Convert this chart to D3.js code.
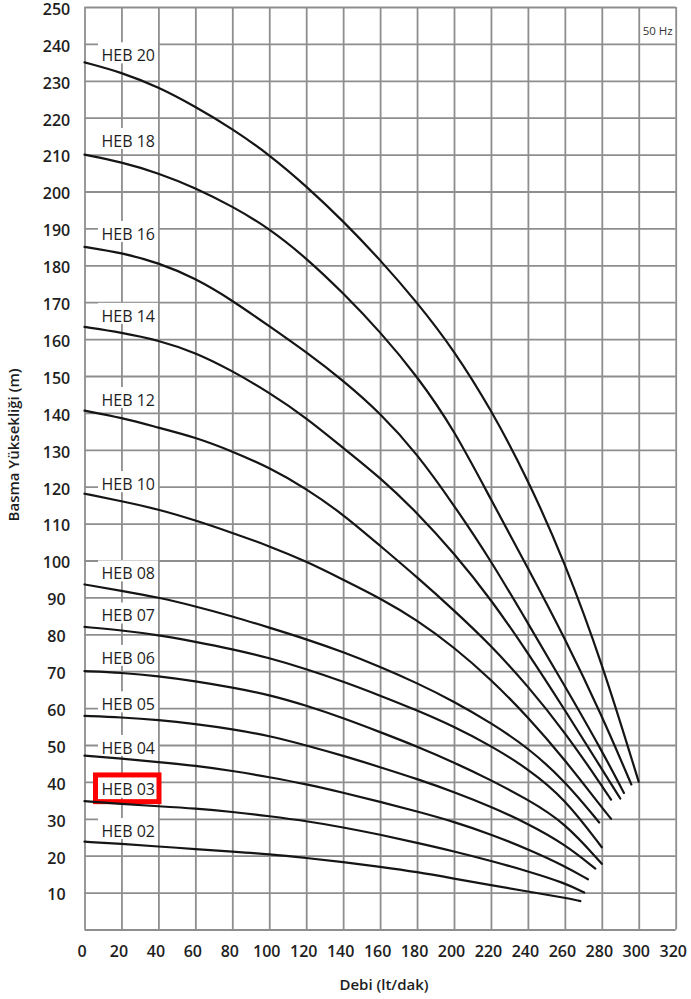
<!DOCTYPE html>
<html>
<head>
<meta charset="utf-8">
<script src="https://cdn.jsdelivr.net/npm/d3@7"></script>
<style>
  html, body { margin: 0; padding: 0; background: #fff; }
  svg { display: block; }
</style>
</head>
<body>
<svg id="chart" width="691" height="999"></svg>
<script>
// ---------- DATA ----------
const flowTicks = [0,20,40,60,80,100,120,140,160,180,200,220,240,260,280,300,320];
const headTicks = [10,20,30,40,50,60,70,80,90,100,110,120,130,140,150,160,170,180,190,200,210,220,230,240,250];
const headGrid  = [0,10,20,30,40,50,60,70,80,90,100,110,120,130,140,150,160,170,180,190,200,210,220,230,240,250];
const models = ["HEB 20","HEB 18","HEB 16","HEB 14","HEB 12","HEB 10","HEB 08","HEB 07","HEB 06","HEB 05","HEB 04","HEB 03","HEB 02"];
// head level (m) at which each model label sits
const labelLevels = [236.9,213.7,188.5,166.3,143.5,120.7,96.5,85.1,73.6,61,49.2,37.9,26.7];
const highlighted = "HEB 03";
const frequency = "50 Hz";
const xTitle = "Debi (lt/dak)";
const yTitle = "Basma Yüksekliği (m)";

// [flow lt/dak, head m]
const heb20 = [[0,235],[20,232.3],[40,228.3],[60,223],[80,217],[100,210],[120,201.5],[140,192],[160,181.5],[180,170],[200,157],[220,141],[240,122],[260,99.5],[280,72.5],[300,40]];
const heb18 = [[0,210],[20,208],[40,205],[60,201],[80,196],[100,190],[120,182],[140,172.5],[160,162],[180,150],[200,135.5],[220,116.5],[240,98],[260,79],[280,58],[296,39.3]];
const heb16 = [[0,185],[20,183.4],[40,180.7],[60,176.5],[80,170.5],[100,163.5],[120,156.5],[140,148.8],[160,140],[180,129],[200,115],[220,100],[240,83],[260,66],[280,48.5],[292,37]];
const heb14 = [[0,163.3],[20,161.8],[40,159.7],[60,156.4],[80,151.4],[100,145.5],[120,138.7],[140,130.5],[160,122.5],[180,113],[200,102],[220,89.5],[240,75],[260,59.5],[280,43.5],[290,35.5]];
const heb12 = [[0,140.6],[20,138.7],[40,136],[60,133.4],[80,129.6],[100,125.2],[120,119.5],[140,112.5],[160,104],[180,95.5],[200,86.5],[220,77],[240,66],[260,53.5],[280,39],[285,35.2]];
const heb10 = [[0,118.1],[20,116.1],[40,113.9],[60,110.9],[80,107.5],[100,103.9],[120,99.8],[140,94.8],[160,89.8],[180,83.9],[200,76.5],[220,67.8],[240,57.6],[260,46],[280,33.1],[285,30]];
const heb08 = [[0,93.5],[20,91.8],[40,90],[60,87.6],[80,84.9],[100,81.8],[120,78.7],[140,75.2],[160,71.2],[180,66.8],[200,61.8],[220,56],[240,49.3],[260,40.3],[278.6,29]];
const heb07 = [[0,82],[20,81.1],[40,79.8],[60,78],[80,76],[100,73.6],[120,70.6],[140,67.2],[160,63.4],[180,59.4],[200,55],[220,49.8],[240,43.6],[260,35.5],[280,22.3]];
const heb06 = [[0,70],[20,69.6],[40,68.7],[60,67.3],[80,65.6],[100,63.6],[120,60.7],[140,57.3],[160,53.5],[180,49.6],[200,45.3],[220,40.5],[240,35.2],[260,29],[280,17.8]];
const heb05 = [[0,57.9],[20,57.5],[40,56.8],[60,55.7],[80,54.3],[100,52.5],[120,49.9],[140,47.1],[160,44],[180,40.8],[200,37.3],[220,33.3],[240,28.7],[260,23.1],[276.5,16.5]];
const heb04 = [[0,47.1],[20,46.3],[40,45.4],[60,44.4],[80,43],[100,41.3],[120,39.4],[140,37.1],[160,34.6],[180,32],[200,29.2],[220,25.8],[240,21.8],[260,17.2],[272.5,13.6]];
const heb03 = [[0,34.8],[20,34],[40,33.4],[60,32.8],[80,31.9],[100,30.7],[120,29.4],[140,27.7],[160,25.7],[180,23.5],[200,21.2],[220,18.6],[240,15.8],[260,12.6],[270.5,10]];
const heb02 = [[0,23.8],[20,23.2],[40,22.5],[60,21.8],[80,21.1],[100,20.4],[120,19.4],[140,18.3],[160,17],[180,15.6],[200,13.8],[220,12],[240,10.3],[260,8.6],[268.4,7.7]];

const curves = [heb20,heb18,heb16,heb14,heb12,heb10,heb08,heb07,heb06,heb05,heb04,heb03,heb02];

// ---------- DRAW ----------
const svg = d3.select("#chart");
const FONT = "'Open Sans', 'DejaVu Sans', sans-serif";
const GRID = "#8e8e8e";

const x = d3.scaleLinear().domain([0,320]).range([84.5,675.7]);
const y = d3.scaleLinear().domain([0,250]).range([929.5,7]);
const plotW = x(320) - x(0), plotH = y(0) - y(250);

svg.append("rect").attr("width",691).attr("height",999).attr("fill","#fff");

// vertical grid + x tick labels
const gx = svg.append("g").attr("transform",`translate(0,${y(0)})`)
  .call(d3.axisBottom(x).tickValues(flowTicks).tickSize(-plotH).tickPadding(0).tickFormat(d3.format("d")));
gx.select(".domain").remove();
gx.selectAll(".tick line").attr("stroke",GRID).attr("stroke-width",1.8);
gx.selectAll(".tick text")
  .attr("y",27).attr("dy",0).attr("dx",-3)
  .attr("fill","#1e1e1e").attr("font-family",FONT).attr("font-size",16).attr("font-weight",600);

// horizontal grid
const gy = svg.append("g").attr("transform",`translate(${x(0)},0)`)
  .call(d3.axisLeft(y).tickValues(headGrid).tickSize(-plotW).tickFormat(""));
gy.select(".domain").remove();
gy.selectAll(".tick line").attr("stroke",GRID).attr("stroke-width",1.8);

// y tick labels
const gyl = svg.append("g").attr("transform",`translate(${x(0)},0)`)
  .call(d3.axisLeft(y).tickValues(headTicks).tickSize(0).tickPadding(28).tickFormat(d3.format("d")));
gyl.select(".domain").remove();
gyl.selectAll(".tick text")
  .attr("text-anchor","middle").attr("dy","0.46em")
  .attr("fill","#1e1e1e").attr("font-family",FONT).attr("font-size",16).attr("font-weight",600);

// label backgrounds
const labelX = x(0) + 17;
const lab = svg.append("g");
models.forEach((m,i)=>{
  const cy = y(labelLevels[i]);
  lab.append("rect").attr("x",labelX-3.5).attr("y",cy-13).attr("width",60).attr("height",21).attr("fill","#fff");
});

// curves
const line = d3.line().x(d=>x(d[0])).y(d=>y(d[1])).curve(d3.curveBasis);
svg.append("g").selectAll("path").data(curves).join("path")
  .attr("d",line).attr("fill","none").attr("stroke","#151515").attr("stroke-width",2.2)
  .attr("stroke-linecap","round");

// model labels
models.forEach((m,i)=>{
  const cy = y(labelLevels[i]);
  lab.append("text").attr("x",labelX).attr("y",cy).attr("dy","0.36em")
    .attr("font-family",FONT).attr("font-size",16).attr("font-weight",500).attr("fill","#1e1e1e")
    .text(m);
  if (m === highlighted) {
    lab.append("rect").attr("x",labelX-6).attr("y",cy-14.7).attr("width",63.5).attr("height",26.7)
      .attr("fill","none").attr("stroke","#ff0000").attr("stroke-width",5);
  }
});

// frequency note
svg.append("text").attr("x",x(320)-3).attr("y",y(250)+27.5).attr("text-anchor","end")
  .attr("font-family",FONT).attr("font-size",11.5).attr("fill","#333").text(frequency);

// axis titles
svg.append("text").attr("x",384).attr("y",990).attr("text-anchor","middle")
  .attr("font-family",FONT).attr("font-size",15).attr("font-weight",600).attr("fill","#1e1e1e").text(xTitle);
svg.append("text").attr("transform","translate(14,445) rotate(-90)").attr("text-anchor","middle").attr("dy","0.36em")
  .attr("font-family",FONT).attr("font-size",15).attr("font-weight",600).attr("fill","#1e1e1e").text(yTitle);
</script>
</body>
</html>
